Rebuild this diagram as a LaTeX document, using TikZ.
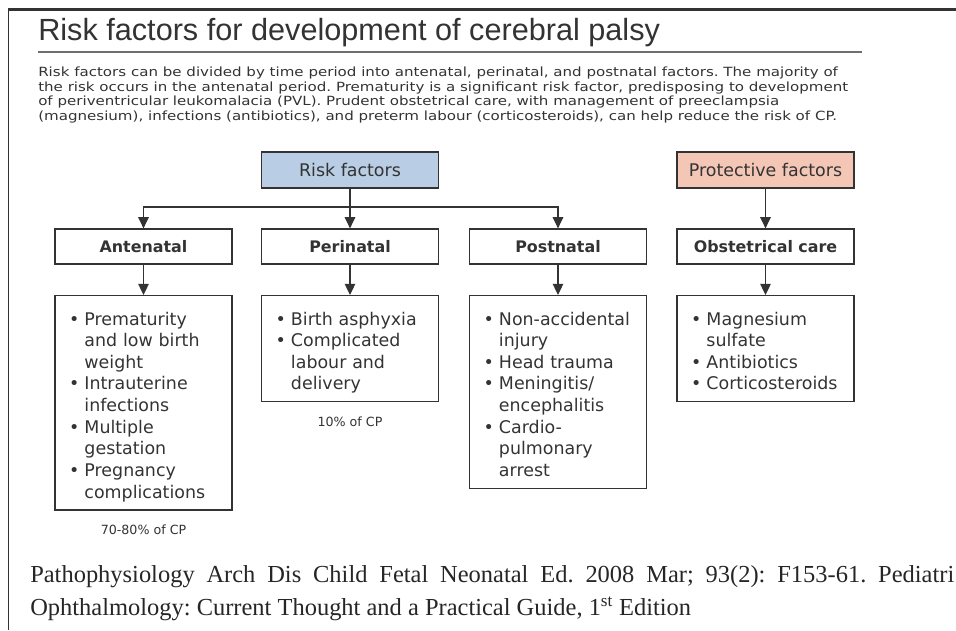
\documentclass[tikz,border=0pt]{standalone}
\usepackage{fontspec}
\setmainfont{Liberation Serif}
\setsansfont{DejaVu Sans}
\newfontfamily\titlefont{Liberation Sans}
\newfontfamily\parafont[FakeStretch=1.19]{DejaVu Sans}
\usetikzlibrary{arrows.meta}
\frenchspacing
\definecolor{inkgray}{HTML}{333333}
\definecolor{riskblue}{HTML}{B9CDE4}
\definecolor{protpink}{HTML}{F4C6B6}
\definecolor{rulegray}{HTML}{6E6E6E}
\newlength{\bulw}\setlength{\bulw}{11pt}
\newcommand{\bul}{\par\noindent\hangindent=\bulw\hangafter=1\makebox[\bulw][l]{\textbullet}}
\newcommand{\lstrut}{\rule[-2.8pt]{0pt}{12pt}}
\tikzset{
  topbox/.style={draw=inkgray, line width=0.9pt, minimum width=4.425cm, minimum height=0.9cm, inner sep=0pt, font=\sffamily\fontsize{12.4}{14}\selectfont, text=inkgray},
  catbox/.style={draw=inkgray, line width=0.9pt, minimum width=4.425cm, minimum height=0.875cm, inner sep=0pt, font=\sffamily\bfseries\fontsize{11.3}{13}\selectfont, text=inkgray},
  listbox/.style={draw=inkgray, line width=0.9pt, anchor=north, text width=3.725cm, inner xsep=0.35cm, inner ysep=5.5pt, align=left, font=\sffamily\fontsize{12.4}{15.4}\selectfont, text=inkgray},
  pct/.style={anchor=north, inner sep=0pt, font=\sffamily\fontsize{9}{11}\selectfont, text=inkgray},
  arr/.style={draw=inkgray, line width=0.9pt, -{Triangle[length=8pt,width=7.5pt]}},
}
\begin{document}
\begin{tikzpicture}
\useasboundingbox (0,0) rectangle (23.9,-15.75);
% frame
\draw[inkgray, line width=1.4pt] (0.2125,-15.75) -- (0.2125,-0.2375);
\draw[inkgray, line width=2pt] (0.2,-0.2375) -- (23.9,-0.2375);
% heading
\node[anchor=base west, inner sep=0pt, font=\titlefont\fontsize{21.8}{26}\selectfont, text=inkgray] (title) at (0.95,-1.0) {Risk factors for development of cerebral palsy};
\draw[rulegray, line width=1.3pt] (0.95,-1.3) -- (21.55,-1.3);
\node[anchor=north west, inner sep=0pt, align=left, font=\parafont\fontsize{9}{10.3}\selectfont, text=inkgray] (intro) at (0.95,-1.675) {Risk factors can be divided by time period into antenatal, perinatal, and postnatal factors. The majority of\\
the risk occurs in the antenatal period. Prematurity is a significant risk factor, predisposing to development\\
of periventricular leukomalacia (PVL). Prudent obstetrical care, with management of preeclampsia\\
(magnesium), infections (antibiotics), and preterm labour (corticosteroids), can help reduce the risk of CP.};
% top row
\node[topbox, fill=riskblue] (risk) at (8.75,-4.25) {Risk factors};
\node[topbox, fill=protpink] (prot) at (19.1375,-4.25) {Protective factors};
% periods
\node[catbox] (ante) at (3.5875,-6.1625) {Antenatal};
\node[catbox] (peri) at (8.75,-6.1625) {Perinatal};
\node[catbox] (post) at (13.95,-6.1625) {Postnatal};
\node[catbox] (obst) at (19.1375,-6.1625) {Obstetrical care};
% lists
\node[listbox] (antelist) at (3.5875,-7.375) {\bul\lstrut Prematurity\newline and low birth\newline weight
\bul Intrauterine\newline infections
\bul Multiple\newline gestation
\bul Pregnancy\newline complications\lstrut\par};
\node[listbox] (perilist) at (8.75,-7.375) {\bul\lstrut Birth asphyxia
\bul Complicated\newline labour and\newline delivery\lstrut\par};
\node[listbox] (postlist) at (13.95,-7.375) {\bul\lstrut Non-accidental\newline injury
\bul Head trauma
\bul Meningitis/\newline encephalitis
\bul Cardio-\newline pulmonary\newline arrest\lstrut\par};
\node[listbox] (obstlist) at (19.1375,-7.375) {\bul\lstrut Magnesium\newline sulfate
\bul Antibiotics
\bul Corticosteroids\lstrut\par};
% shares
\node[pct] (perinote) at ([yshift=-0.35cm]perilist.south) {10\% of CP};
\node[pct] (antenote) at ([yshift=-0.35cm]antelist.south) {70-80\% of CP};
% connectors
\coordinate (split) at (8.75,-5.175);
\draw[inkgray, line width=0.9pt] (risk.south) -- (split);
\draw[arr] (split) -| (ante.north);
\draw[arr] (split) -- (peri.north);
\draw[arr] (split) -| (post.north);
\draw[arr] (prot) -- (obst);
\draw[arr] (ante) -- (antelist);
\draw[arr] (peri) -- (perilist);
\draw[arr] (post) -- (postlist);
\draw[arr] (obst) -- (obstlist);
% source
\node[anchor=base west, inner sep=0pt, font=\fontsize{17.4}{20}\selectfont, text=black!85] (cite1) at (0.75,-14.55) {\makebox[23.1cm][s]{Pathophysiology Arch Dis Child Fetal Neonatal Ed. 2008 Mar; 93(2): F153-61. Pediatri}};
\node[anchor=base west, inner sep=0pt, font=\fontsize{17.4}{20}\selectfont, text=black!85] (cite2) at (0.75,-15.375) {Ophthalmology: Current Thought and a Practical Guide, 1\textsuperscript{st} Edition};
\end{tikzpicture}
\end{document}
